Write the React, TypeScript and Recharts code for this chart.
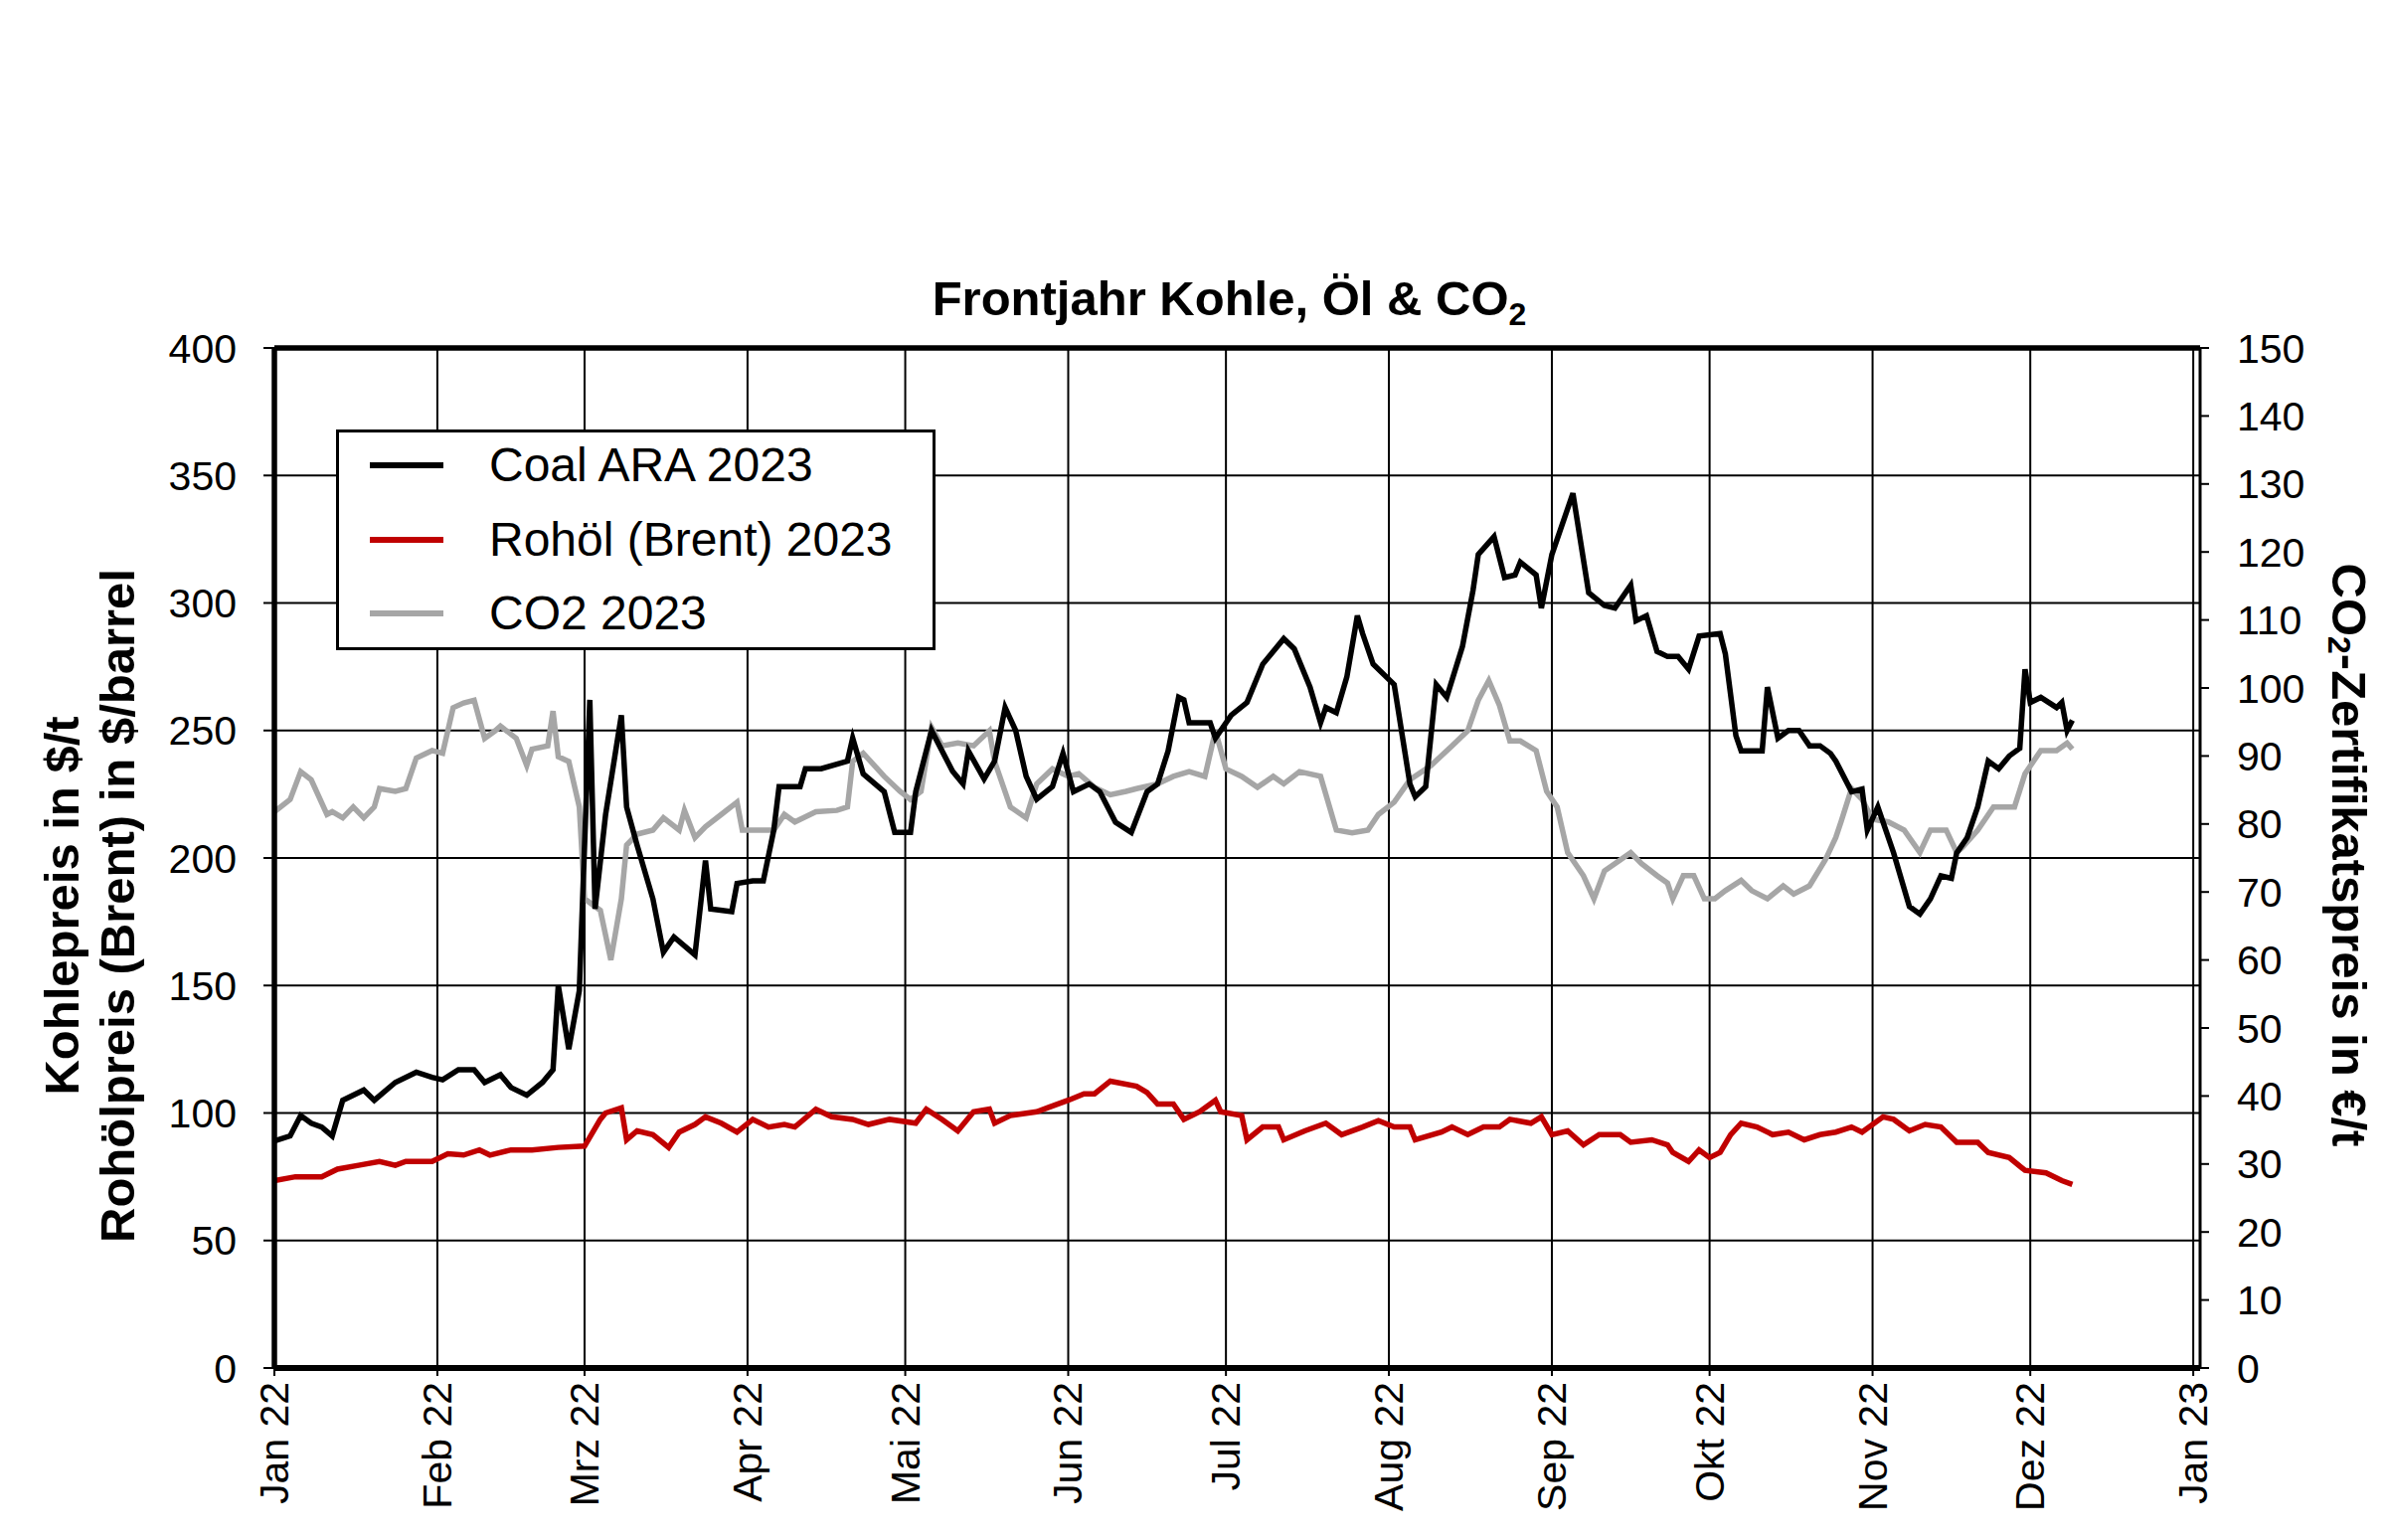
import React from "react";
import {
  LineChart,
  Line,
  XAxis,
  YAxis,
  CartesianGrid,
  Legend,
  ReferenceLine,
} from "recharts";

// ---------- data ----------
const monthStartDays = [0, 31, 59, 90, 120, 151, 181, 212, 243, 273, 304, 334, 365];
const monthLabels = [
  "Jan 22", "Feb 22", "Mrz 22", "Apr 22", "Mai 22", "Jun 22", "Jul 22",
  "Aug 22", "Sep 22", "Okt 22", "Nov 22", "Dez 22", "Jan 23",
];
const leftTicks = [0, 50, 100, 150, 200, 250, 300, 350, 400];
const rightTicks = [0, 10, 20, 30, 40, 50, 60, 70, 80, 90, 100, 110, 120, 130, 140, 150];

// day of year 2022 (0 = 1 Jan 2022)
const coalDays = [0,3,5,7,9,11,13,17,19,23,27,30,32,35,38,40,43,45,48,51,53,54,56,58,60,61,63,66,67,69,72,74,76,80,82,83,87,88,91,93,95,96,100,101,104,109,110,112,116,118,121,122,125,129,131,132,135,137,139,141,143,145,148,150,152,155,157,160,163,166,168,170,172,173,174,178,179,182,185,188,192,194,197,199,200,202,204,206,207,209,213,216,217,219,221,223,226,228,229,232,234,236,237,240,241,243,247,250,253,255,258,259,261,263,265,267,269,271,275,276,278,279,283,284,286,288,290,292,294,296,297,300,302,303,305,308,311,313,315,317,319,320,322,324,326,328,330,332,333,334,336,339,340,341,342];
const coalValues = [89,91,99,96,94.5,91,105,109,105,112,116,114,113,117,117,112,115,110,107,112,117,150,125,148,262,180,217,256,220,205,184,163,169,162,199,180,179,190,191,191,211,228,228,235,235,238,247,233,226,210,210,226,250,234,229,242,231,238,259,250,232,223,228,241,226,229,226,214,210,226,229,242,263,262,253,253,247,256,261,276,286,282,267,253,259,257,271,295,288,276,268,229,224,228,268,263,283,305,319,326,310,311,316,311,298,319,343,304,299,298,307,293,295,281,279,279,274,287,288,280,248,242,242,267,247,250,250,244,244,241,238,226,227,211,220,202,181,178,184,193,192,202,208,220,238,235,240,243,274,261,263,259,261,250,254];

const oilDays = [0,4,9,12,16,20,23,25,30,33,36,39,41,45,49,54,59,62,63,66,67,69,72,75,77,80,82,85,88,91,94,97,99,103,106,110,113,117,122,124,127,130,133,136,137,140,145,147,151,154,156,159,164,166,168,171,173,176,179,180,184,185,188,191,192,196,200,203,207,210,213,216,217,222,224,227,230,233,235,239,241,243,246,249,252,256,258,262,265,266,269,271,273,275,277,279,282,285,288,291,294,297,300,302,306,308,311,314,317,320,324,326,330,333,337,340,342];
const oilValues = [73.5,75,75,78,79.5,81,79.5,81,81,84,83.5,85.5,83.5,85.5,85.5,86.5,87,97.5,100,102,89.5,93,91.5,86.5,92.5,95.5,98.5,96,92.5,97.5,94.5,95.5,94.5,101.5,98.5,97.5,95.5,97.5,96,101.5,97.5,93,100.5,101.5,96,99,100.5,102,105,107.5,107.5,112.5,110.5,108,103.5,103.5,97.5,100.5,105,100.5,99,89.5,94.5,94.5,89.5,93,96,91.5,94.5,97,94.5,94.5,89.5,92.5,94.5,91.5,94.5,94.5,97.5,96,98.5,91.5,93,87.5,91.5,91.5,88.5,89.5,87.5,84.5,81,85.5,82.5,84.5,91.5,96,94.5,91.5,92.5,89.5,91.5,92.5,94.5,92.5,98.5,97.5,93,95.5,94.5,88.5,88.5,84.5,82.5,77.5,76.5,73.5,72];

const co2Days = [0,3,5,7,10,11,13,15,17,19,20,23,25,27,30,32,34,36,38,40,42,43,46,48,49,52,53,54,56,58,59,62,64,66,67,69,72,74,77,78,80,82,85,88,89,93,95,97,99,103,107,109,110,112,116,119,121,123,125,127,130,133,136,137,140,143,145,148,151,153,156,159,162,164,168,171,174,177,179,181,184,187,190,192,195,199,202,205,208,210,213,216,220,224,227,229,231,233,235,237,240,242,244,246,249,251,253,256,258,260,263,265,266,268,270,272,274,276,279,281,284,287,289,292,295,297,298,300,302,304,307,310,313,315,318,320,321,324,327,331,333,336,339,341,342];
const co2Values = [81.8,83.6,87.7,86.5,81.4,81.8,80.9,82.5,80.9,82.5,85.2,84.8,85.2,89.7,90.8,90.4,97.1,97.8,98.2,92.6,93.7,94.4,92.6,88.6,91,91.5,96.6,89.9,89.2,82.5,69,67.3,60,69,76.9,78.5,79.1,80.9,79.1,82,78,79.6,81.4,83.2,79.1,79.1,79.1,81.4,80.3,81.8,82,82.5,89.2,90.4,87,84.8,83.6,84.8,94.2,91.5,91.9,91.5,93.7,89.2,82.5,80.9,85.9,88.1,87,87.4,85.4,84.3,84.8,85.2,85.9,87,87.7,87,93.7,88.1,87,85.4,87,85.9,87.7,87,79.1,78.7,79.1,81.4,83.2,86.5,88.6,91.5,93.7,98.2,101.1,97.5,92.2,92.2,90.8,84.8,82.5,75.8,72.4,69,73.1,74.7,75.8,74.2,72.4,71.3,69,72.4,72.4,69,69,70.2,71.7,70.2,69,70.9,69.7,70.9,74.7,78,80.3,85.2,83.6,80.7,80.3,79.1,75.8,79.1,79.1,75.8,76.5,79.1,82.5,82.5,87.4,90.8,90.8,91.9,91];

const seriesNames = ["Coal ARA 2023", "Rohöl (Brent) 2023", "CO2 2023"];
const seriesColors = ["#000000", "#C00000", "#A6A6A6"];

const toRows = (days: number[], values: number[]) =>
  days.map((d, i) => ({ day: d, value: values[i] }));

const coalData = toRows(coalDays, coalValues);
const oilData = toRows(oilDays, oilValues);
const co2Data = toRows(co2Days, co2Values);

// ---------- styling ----------
const FONT = "'Liberation Sans', Arial, Helvetica, sans-serif";
const W = 2400;
const H = 1549;
const LINE_W = 5.5;

const XTick = (props: any) => {
  const { x, y, payload } = props;
  const idx = monthStartDays.indexOf(payload.value);
  const label = idx >= 0 ? monthLabels[idx] : "";
  return (
    <text
      x={x}
      y={y}
      transform={`rotate(-90 ${x} ${y})`}
      textAnchor="end"
      dominantBaseline="central"
      fontSize={41}
      fill="#000"
      fontFamily={FONT}
    >
      {label}
    </text>
  );
};

const LeftAxisLabel = (props: any) => {
  const vb = props.viewBox || { x: 0, y: 350, width: 276, height: 1026 };
  const cy = vb.y + vb.height / 2 + 48;
  const x1 = vb.x + 62;
  const x2 = vb.x + 118;
  return (
    <g>
      <text
        x={x1}
        y={cy}
        transform={`rotate(-90 ${x1} ${cy})`}
        textAnchor="middle"
        dominantBaseline="central"
        fontSize={49}
        fontWeight="bold"
        fill="#000"
        fontFamily={FONT}
      >
        Kohlepreis in $/t
      </text>
      <text
        x={x2}
        y={cy}
        transform={`rotate(-90 ${x2} ${cy})`}
        textAnchor="middle"
        dominantBaseline="central"
        fontSize={49}
        fontWeight="bold"
        fill="#000"
        fontFamily={FONT}
      >
        Rohölpreis (Brent) in $/barrel
      </text>
    </g>
  );
};

const RightAxisLabel = (props: any) => {
  const vb = props.viewBox || { x: 2213, y: 350, width: 187, height: 1026 };
  const cx = vb.x + 150;
  const cy = vb.y + vb.height / 2 - 3;
  return (
    <text
      x={cx}
      y={cy}
      transform={`rotate(90 ${cx} ${cy})`}
      textAnchor="middle"
      dominantBaseline="central"
      fontSize={49}
      fontWeight="bold"
      fill="#000"
      fontFamily={FONT}
    >
      CO
      <tspan fontSize={32} dy={10}>2</tspan>
      <tspan dy={-10}>-Zertifikatspreis in €/t</tspan>
    </text>
  );
};

const LegendBox = (props: any) => {
  const payload = (props.payload || []).slice();
  payload.sort(
    (a: any, b: any) => seriesNames.indexOf(a.value) - seriesNames.indexOf(b.value)
  );
  const rowCenters = [36, 111, 185];
  return (
    <div
      style={{
        position: "relative",
        width: 603,
        height: 222,
        boxSizing: "border-box",
        border: "3px solid #000",
        background: "#fff",
        fontFamily: FONT,
      }}
    >
      {payload.map((p: any, i: number) => (
        <React.Fragment key={p.value}>
          <div
            style={{
              position: "absolute",
              left: 31,
              top: rowCenters[i] - 3 - 3,
              width: 74,
              height: 6,
              background: p.color,
            }}
          />
          <div
            style={{
              position: "absolute",
              left: 151,
              top: rowCenters[i] - 3 - 30,
              height: 60,
              lineHeight: "60px",
              fontSize: 48,
              color: "#000",
              whiteSpace: "nowrap",
            }}
          >
            {p.value}
          </div>
        </React.Fragment>
      ))}
    </div>
  );
};

export default function App() {
  return (
    <div
      style={{
        position: "absolute",
        left: 0,
        top: 0,
        width: W,
        height: H,
        background: "#fff",
        fontFamily: FONT,
      }}
    >
      <div
        style={{
          position: "absolute",
          left: 268,
          width: 1937,
          top: 276,
          height: 60,
          lineHeight: "48px",
          textAlign: "center",
          fontSize: 49,
          fontWeight: "bold",
          color: "#000",
          zIndex: 2,
        }}
      >
        Frontjahr Kohle, Öl &amp; CO
        <span style={{ fontSize: 32, position: "relative", top: 10 }}>2</span>
      </div>
      <LineChart
        width={W}
        height={H}
        margin={{ top: 350, right: 0, bottom: 0, left: 0 }}
        style={{ fontFamily: FONT }}
      >
        <CartesianGrid
          yAxisId="left"
          stroke="#000"
          strokeWidth={2}
          horizontalValues={leftTicks}
          verticalValues={monthStartDays}
        />
        <XAxis
          type="number"
          dataKey="day"
          domain={[0, 366.3]}
          allowDataOverflow
          ticks={monthStartDays}
          interval={0}
          height={173}
          tick={<XTick />}
          tickSize={8}
          tickMargin={6}
          axisLine={{ stroke: "#000", strokeWidth: 6 }}
          tickLine={{ stroke: "#000", strokeWidth: 2 }}
        />
        <YAxis
          yAxisId="left"
          orientation="left"
          type="number"
          domain={[0, 400]}
          ticks={leftTicks}
          interval={0}
          width={276}
          tickSize={11}
          tickMargin={27}
          tick={{ fontSize: 41, fill: "#000", fontFamily: FONT }}
          axisLine={{ stroke: "#000", strokeWidth: 5.5 }}
          tickLine={{ stroke: "#000", strokeWidth: 2 }}
          label={<LeftAxisLabel />}
        />
        <YAxis
          yAxisId="right"
          orientation="right"
          type="number"
          domain={[0, 150]}
          ticks={rightTicks}
          interval={0}
          width={187}
          tickSize={9}
          tickMargin={28}
          tick={{ fontSize: 41, fill: "#000", fontFamily: FONT }}
          axisLine={{ stroke: "#000", strokeWidth: 3 }}
          tickLine={{ stroke: "#000", strokeWidth: 2 }}
          label={<RightAxisLabel />}
        />
        <ReferenceLine yAxisId="left" y={400} stroke="#000" strokeWidth={5.5} />
        <Legend
          layout="vertical"
          align="center"
          verticalAlign="middle"
          content={<LegendBox />}
          wrapperStyle={{ position: "absolute", left: 338, top: 432, width: 603, height: 222 }}
        />
        <Line
          yAxisId="right"
          data={co2Data}
          dataKey="value"
          name={seriesNames[2]}
          stroke={seriesColors[2]}
          strokeWidth={LINE_W}
          dot={false}
          activeDot={false}
          isAnimationActive={false}
        />
        <Line
          yAxisId="left"
          data={oilData}
          dataKey="value"
          name={seriesNames[1]}
          stroke={seriesColors[1]}
          strokeWidth={LINE_W}
          dot={false}
          activeDot={false}
          isAnimationActive={false}
        />
        <Line
          yAxisId="left"
          data={coalData}
          dataKey="value"
          name={seriesNames[0]}
          stroke={seriesColors[0]}
          strokeWidth={LINE_W}
          dot={false}
          activeDot={false}
          isAnimationActive={false}
        />
      </LineChart>
    </div>
  );
}
